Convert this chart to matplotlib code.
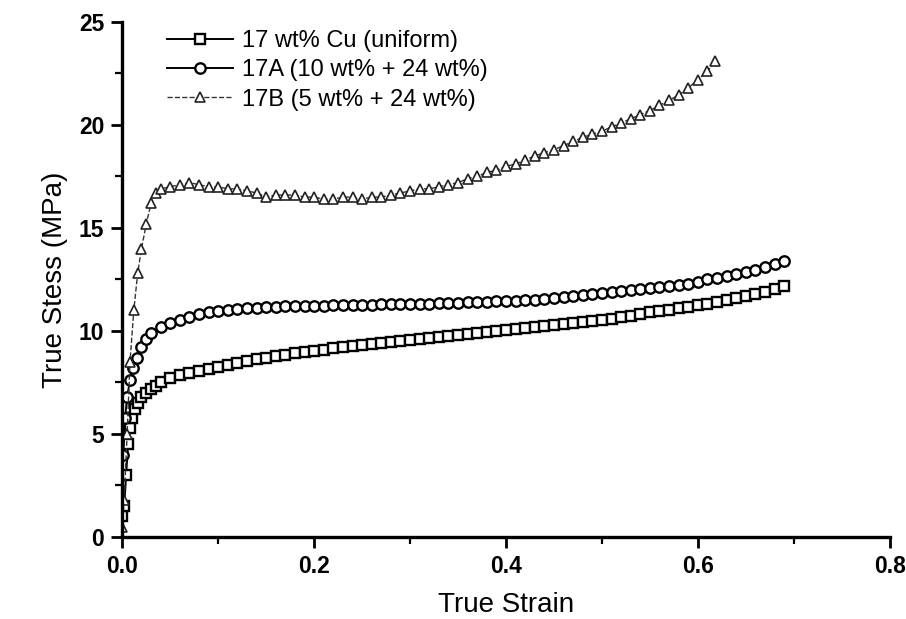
import matplotlib
matplotlib.use("Agg")
import matplotlib.pyplot as plt

plt.rcParams['font.family'] = ['Liberation Sans', 'DejaVu Sans']

# 17 wt% Cu (uniform)
strain_u = [0.000, 0.002, 0.004, 0.006, 0.008, 0.010, 0.013, 0.016, 0.020, 0.025,
            0.030, 0.035, 0.040, 0.050, 0.060, 0.070, 0.080, 0.090, 0.100, 0.110,
            0.120, 0.130, 0.140, 0.150, 0.160, 0.170, 0.180, 0.190, 0.200, 0.210,
            0.220, 0.230, 0.240, 0.250, 0.260, 0.270, 0.280, 0.290, 0.300, 0.310,
            0.320, 0.330, 0.340, 0.350, 0.360, 0.370, 0.380, 0.390, 0.400, 0.410,
            0.420, 0.430, 0.440, 0.450, 0.460, 0.470, 0.480, 0.490, 0.500, 0.510,
            0.520, 0.530, 0.540, 0.550, 0.560, 0.570, 0.580, 0.590, 0.600, 0.610,
            0.620, 0.630, 0.640, 0.650, 0.660, 0.670, 0.680, 0.690]
stress_u = [1.0, 1.5, 3.0, 4.5, 5.3, 5.8, 6.2, 6.5, 6.8, 7.0,
            7.2, 7.35, 7.5, 7.7, 7.85, 7.95, 8.05, 8.15, 8.25, 8.35,
            8.45, 8.55, 8.65, 8.7, 8.8, 8.85, 8.95, 9.0, 9.05, 9.1,
            9.15, 9.2, 9.25, 9.3, 9.35, 9.4, 9.45, 9.5, 9.55, 9.6,
            9.65, 9.7, 9.75, 9.8, 9.85, 9.9, 9.95, 10.0, 10.05, 10.1,
            10.15, 10.2, 10.25, 10.3, 10.35, 10.4, 10.45, 10.5, 10.55, 10.6,
            10.7, 10.75, 10.8, 10.9, 10.95, 11.0, 11.1, 11.15, 11.25, 11.3,
            11.4, 11.5, 11.6, 11.7, 11.8, 11.9, 12.05, 12.2]

# 17A (10 wt% + 24 wt%)
strain_a = [0.001, 0.003, 0.005, 0.008, 0.011, 0.015, 0.020, 0.025, 0.030, 0.040,
            0.050, 0.060, 0.070, 0.080, 0.090, 0.100, 0.110, 0.120, 0.130, 0.140,
            0.150, 0.160, 0.170, 0.180, 0.190, 0.200, 0.210, 0.220, 0.230, 0.240,
            0.250, 0.260, 0.270, 0.280, 0.290, 0.300, 0.310, 0.320, 0.330, 0.340,
            0.350, 0.360, 0.370, 0.380, 0.390, 0.400, 0.410, 0.420, 0.430, 0.440,
            0.450, 0.460, 0.470, 0.480, 0.490, 0.500, 0.510, 0.520, 0.530, 0.540,
            0.550, 0.560, 0.570, 0.580, 0.590, 0.600, 0.610, 0.620, 0.630, 0.640,
            0.650, 0.660, 0.670, 0.680, 0.690]
stress_a = [4.0, 5.8, 6.8, 7.6, 8.2, 8.7, 9.2, 9.6, 9.9, 10.2,
            10.4, 10.55, 10.7, 10.8, 10.9, 10.95, 11.0, 11.05, 11.1, 11.1,
            11.15, 11.15, 11.2, 11.2, 11.2, 11.2, 11.2, 11.25, 11.25, 11.25,
            11.25, 11.25, 11.3, 11.3, 11.3, 11.3, 11.3, 11.3, 11.35, 11.35,
            11.35, 11.4, 11.4, 11.4, 11.45, 11.45, 11.45, 11.5, 11.5, 11.55,
            11.6, 11.65, 11.7, 11.75, 11.8, 11.85, 11.9, 11.95, 12.0, 12.05,
            12.1, 12.15, 12.2, 12.25, 12.3, 12.4, 12.5, 12.55, 12.65, 12.75,
            12.85, 12.95, 13.1, 13.25, 13.4]

# 17B (5 wt% + 24 wt%)
strain_b = [0.000, 0.002, 0.005, 0.008, 0.012, 0.016, 0.020, 0.025, 0.030, 0.035,
            0.040, 0.050, 0.060, 0.070, 0.080, 0.090, 0.100, 0.110, 0.120, 0.130,
            0.140, 0.150, 0.160, 0.170, 0.180, 0.190, 0.200, 0.210, 0.220, 0.230,
            0.240, 0.250, 0.260, 0.270, 0.280, 0.290, 0.300, 0.310, 0.320, 0.330,
            0.340, 0.350, 0.360, 0.370, 0.380, 0.390, 0.400, 0.410, 0.420, 0.430,
            0.440, 0.450, 0.460, 0.470, 0.480, 0.490, 0.500, 0.510, 0.520, 0.530,
            0.540, 0.550, 0.560, 0.570, 0.580, 0.590, 0.600, 0.610, 0.618]
stress_b = [0.5, 1.8, 5.0, 8.5, 11.0, 12.8, 14.0, 15.2, 16.2, 16.7,
            16.9, 17.0, 17.1, 17.2, 17.1, 17.0, 17.0, 16.9, 16.9, 16.8,
            16.7, 16.5, 16.6, 16.6, 16.6, 16.5, 16.5, 16.4, 16.4, 16.5,
            16.5, 16.4, 16.5, 16.5, 16.6, 16.7, 16.8, 16.9, 16.9, 17.0,
            17.1, 17.2, 17.4, 17.5, 17.7, 17.8, 18.0, 18.1, 18.3, 18.5,
            18.65, 18.8, 19.0, 19.2, 19.4, 19.55, 19.7, 19.9, 20.1, 20.3,
            20.5, 20.7, 20.95, 21.2, 21.45, 21.8, 22.2, 22.6, 23.1]

fig = plt.figure(figsize=(9.06, 6.19), dpi=100)
ax = fig.add_axes([0.135, 0.1325, 0.847, 0.832])

ax.plot(strain_u, stress_u, color='black', lw=1.4, marker='s', ms=6.5,
        mfc='white', mec='black', mew=1.7, label='17 wt% Cu (uniform)')
ax.plot(strain_a, stress_a, color='black', lw=1.4, marker='o', ms=7.5,
        mfc='white', mec='black', mew=1.7, label='17A (10 wt% + 24 wt%)')
ax.plot(strain_b, stress_b, color='#333333', lw=1.0, ls='--', marker='^', ms=6.5,
        mfc='white', mec='#222222', mew=1.2, label='17B (5 wt% + 24 wt%)')

ax.set_xlim(0, 0.8)
ax.set_ylim(0, 25)
ax.set_xticks([0.0, 0.2, 0.4, 0.6, 0.8])
ax.set_xticks([0.1, 0.3, 0.5, 0.7], minor=True)
ax.set_yticks([0, 5, 10, 15, 20, 25])
ax.set_yticks([2.5, 7.5, 12.5, 17.5, 22.5], minor=True)
ax.set_xticklabels(['0.0', '0.2', '0.4', '0.6', '0.8'])

for s in ['top', 'right']:
    ax.spines[s].set_visible(False)
for s in ['left', 'bottom']:
    ax.spines[s].set_linewidth(2.4)
ax.tick_params(which='major', direction='out', length=8, width=2.0, labelsize=16.5, pad=5)
ax.tick_params(which='minor', direction='out', length=5, width=1.6)
for lab in ax.get_xticklabels() + ax.get_yticklabels():
    lab.set_fontweight('bold')

ax.set_xlabel('True Strain', fontsize=20, labelpad=10)
ax.set_ylabel('True Stess (MPa)', fontsize=20, labelpad=8)

ax.legend(loc='upper left', bbox_to_anchor=(0.03, 1.025), frameon=False,
          fontsize=17, handlelength=2.8, handletextpad=0.4, labelspacing=0.3)

fig.savefig('out.png', dpi=100)
